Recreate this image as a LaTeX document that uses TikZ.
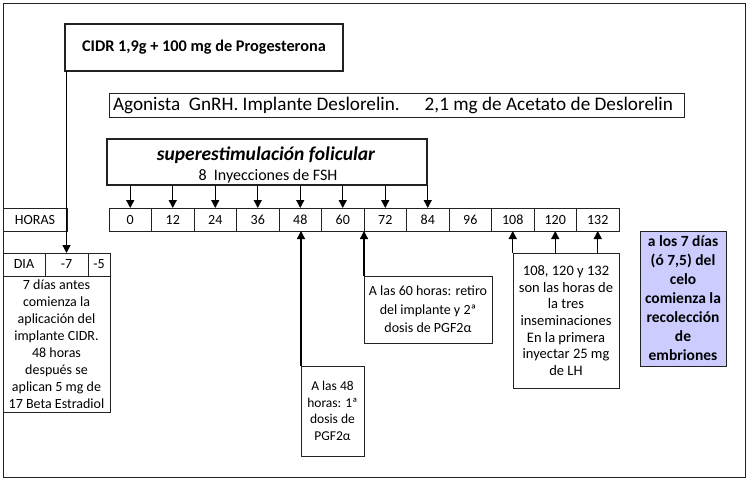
\documentclass[tikz,border=0pt]{standalone}
\usepackage{fontspec}
\setmainfont{Carlito}
\usetikzlibrary{arrows.meta}
\definecolor{lav}{HTML}{CCCCFF}
\definecolor{bord}{HTML}{222222}
\begin{document}
\begin{tikzpicture}[x=1pt,y=-1pt,
  box/.style={draw=bord,line width=0.9pt,inner sep=0pt,outer sep=0pt,align=center,anchor=center},
  thickbox/.style={box,line width=2.2pt},
  cell/.style={box,minimum height=23pt,font=\fontsize{14}{15}\selectfont},
  txt/.style={font=\fontsize{14}{17}\selectfont},
  arr/.style={line width=1.3pt,-{Triangle[width=8pt,length=8pt]}}]
\useasboundingbox (0,0) rectangle (750,480);
\draw[line width=1pt,bord] (3,3) rectangle (745,477);
% top boxes
\node[thickbox,minimum width=278pt,minimum height=47pt,font=\bfseries\fontsize{16.3}{18}\selectfont] (cidr) at (204,47.5) {CIDR 1,9g + 100 mg de Progesterona};
\node[box,minimum width=575pt,minimum height=24pt] (agon) at (396.5,105) {};
\node[font=\fontsize{19.2}{20}\selectfont] (agontext) at (393,105) {Agonista\ \ GnRH. Implante Deslorelin.\hspace{25pt}2,1 mg de Acetato de Deslorelin};
\node[thickbox,minimum width=320pt,minimum height=46pt] (sup) at (267,162) {};
\node[font=\bfseries\itshape\fontsize{19.5}{21}\selectfont] (suptitle) at (266,155) {superestimulación folicular};
\node[font=\fontsize{16}{18}\selectfont] (supsub) at (268,176) {8\ \ Inyecciones de FSH};
% timeline
\foreach \v [count=\i from 0] in {0,12,24,36,48,60,72,84,96,108,120,132}{
  \node[cell,minimum width=42.5pt] (t\i) at ({109+42.5*(\i+0.5)},219.5) {\v};
}
\node[cell,minimum width=64pt] (horas) at (35,219.5) {HORAS};
% DIA row
\node[cell,minimum width=42pt] (dia) at (24,264.5) {DIA};
\node[cell,minimum width=43pt] (d7) at (66.5,264.5) {-7};
\node[cell,minimum width=22pt] (d5) at (99,264.5) {-5};
\node[box,txt,minimum width=107pt,minimum height=136pt] (left) at (56.5,344) {7 días antes\\comienza la\\aplicación del\\implante CIDR.\\48 horas\\después se\\aplican 5 mg de\\17 Beta Estradiol};
% lower boxes
\node[box,font=\fontsize{13.5}{16.7}\selectfont,minimum width=63pt,minimum height=90pt] (b48) at (332.5,411) {A las 48\\horas: 1ª\\dosis de\\PGF2α};
\node[box,font=\fontsize{14}{18.5}\selectfont,minimum width=128pt,minimum height=67pt] (b60) at (428,309.5) {A las 60 horas: retiro\\del implante y 2ª\\dosis de PGF2α};
\node[box,font=\fontsize{14.5}{16.7}\selectfont,minimum width=106pt,minimum height=135pt] (b108) at (566,320.5) {108, 120 y 132\\son las horas de\\la tres\\inseminaciones\\En la primera\\inyectar 25 mg\\de LH};
\node[box,fill=lav,font=\bfseries\fontsize{15.5}{19}\selectfont,minimum width=86pt,minimum height=135pt] (emb) at (683,298.5) {a los 7 días\\(ó 7,5) del\\celo\\comienza la\\recolección\\de\\embriones};
% connectors
\draw[arr] (cidr.south west -| d7.north) -- (d7.north);
\foreach \i in {0,...,7}{
  \draw[arr] (sup.south -| t\i.north) -- (t\i.north);
}
\draw[arr] (b48.north west) -- (b48.north west |- t4.south);
\draw[arr] (b60.north west) -- (t5.south east);
\foreach \i in {9,10,11}{
  \draw[arr] (b108.north -| t\i.south) -- (t\i.south);
}
\end{tikzpicture}
\end{document}
